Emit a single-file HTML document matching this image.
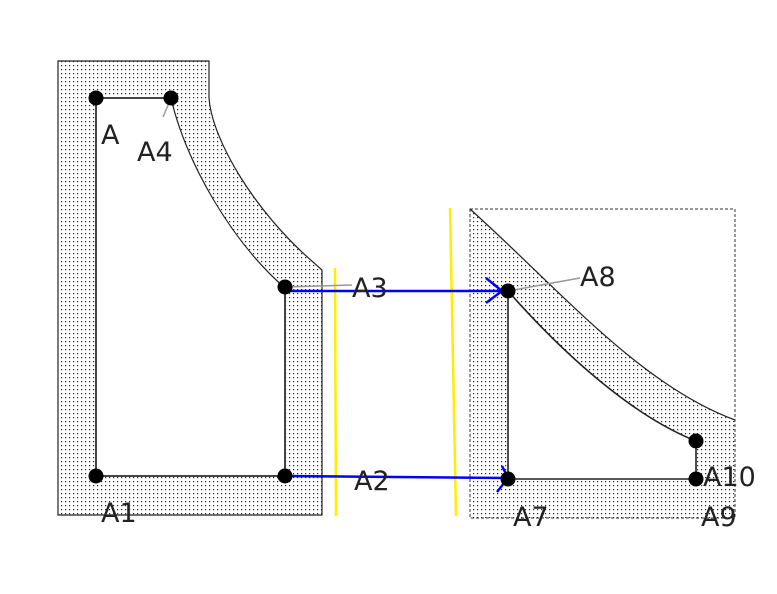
<!DOCTYPE html>
<html><head><meta charset="utf-8"><style>
html,body{margin:0;padding:0;background:#fff;}
svg{display:block;}
text{font-family:"DejaVu Sans","Liberation Sans",sans-serif;font-size:27px;fill:#222;}
</style></head><body>
<svg width="777" height="594" viewBox="0 0 777 594" xmlns="http://www.w3.org/2000/svg">
<defs>
<pattern id="dots" width="4" height="4" patternUnits="userSpaceOnUse">
<rect x="1" y="1" width="1.2" height="1.2" fill="#222"/>
</pattern>
</defs>
<!-- left shape -->
<path fill-rule="evenodd" fill="url(#dots)" stroke="#222" stroke-width="1.2"
 d="M58,61 L209,61 L209,98 C212,140 255,212 313,262 L322,270 L322,515 L58,515 Z
    M96,98 L171,98 C185,160 230,240 285,288 L285,476 L96,476 Z"/>
<path fill="none" stroke="#444" stroke-width="2" d="M96,476 L96,98 L171,98 M285,288 L285,476 L96,476"/>
<!-- right shape -->
<rect x="470" y="209" width="265" height="309" fill="none" stroke="#333" stroke-width="1" stroke-dasharray="3,2"/>
<path fill-rule="evenodd" fill="url(#dots)" stroke="none"
 d="M470,209 C560,290 640,385 735,420 L735,518 L470,518 Z
    M508,291 C560,350 630,415 696,441 L696,479 L508,479 Z"/>
<path fill="none" stroke="#222" stroke-width="1.2" d="M470,209 C560,290 640,385 735,420"/>
<path fill="none" stroke="#222" stroke-width="1.6" d="M508,291 C560,350 630,415 696,441 L696,479 L508,479 Z"/>
<!-- yellow lines -->
<line x1="335" y1="268" x2="336" y2="516" stroke="#ffee00" stroke-width="2.5"/>
<line x1="450" y1="208" x2="456" y2="516" stroke="#ffee00" stroke-width="2.5"/>
<!-- leaders -->
<line x1="171" y1="98" x2="163" y2="117" stroke="#999" stroke-width="1.5"/>
<line x1="285" y1="287" x2="352" y2="285" stroke="#999" stroke-width="1.5"/>
<line x1="508" y1="291" x2="580" y2="278" stroke="#999" stroke-width="1.5"/>
<!-- blue arrows -->
<line x1="285" y1="291" x2="506" y2="291" stroke="#0000ff" stroke-width="2.5"/>
<polyline points="486,278 502,291 486,303" fill="none" stroke="#0000ff" stroke-width="2.5"/>
<line x1="285" y1="476" x2="506" y2="478" stroke="#0000ff" stroke-width="2.5"/>
<polyline points="502,466 508,478 497,492" fill="none" stroke="#0000ff" stroke-width="2.5"/>
<!-- points -->
<g fill="#000">
<circle cx="96" cy="98" r="7.5"/><circle cx="171" cy="98" r="7.5"/>
<circle cx="285" cy="287" r="7.5"/><circle cx="285" cy="476" r="7.5"/>
<circle cx="96" cy="476" r="7.5"/>
<circle cx="508" cy="291" r="7.5"/><circle cx="508" cy="479" r="7.5"/>
<circle cx="696" cy="441" r="7.5"/><circle cx="696" cy="479" r="7.5"/>
</g>
<!-- labels -->
<text x="101" y="144">A</text>
<text x="137" y="161">A4</text>
<text x="352" y="297">A3</text>
<text x="354" y="490">A2</text>
<text x="101" y="522">A1</text>
<text x="580" y="286">A8</text>
<text x="703" y="486">A10</text>
<text x="513" y="526">A7</text>
<text x="701" y="526">A9</text>
</svg>
</body></html>
